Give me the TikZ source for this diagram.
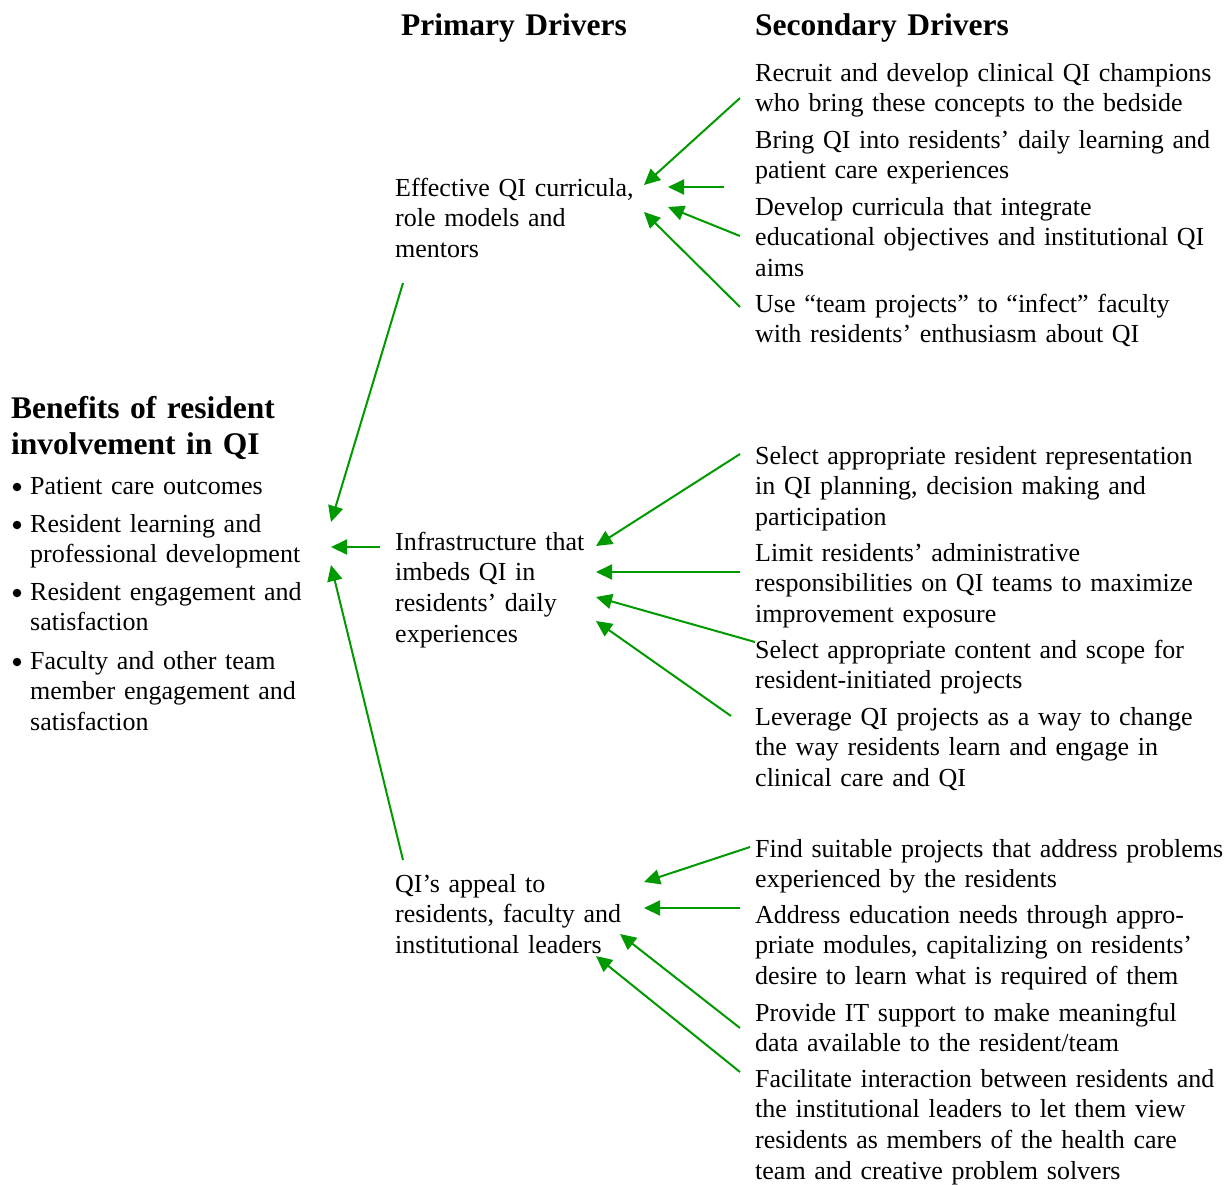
\documentclass[tikz,border=0pt]{standalone}
\usepackage{fontspec}
\setmainfont{Liberation Serif}
\usetikzlibrary{arrows.meta}
\definecolor{arrgreen}{RGB}{0,153,0}
\begin{document}
\begin{tikzpicture}[x=1pt,y=-1pt,
  txt/.style={anchor=base west, inner sep=0pt, align=left, text width=520pt,
    yshift=-2pt, font=\fontsize{26.0}{30.7}\selectfont},
  hdr/.style={anchor=base west, inner sep=0pt, align=left, text width=400pt,
    yshift=-1pt, font=\fontsize{31.5}{36.5}\selectfont\bfseries},
  bul/.style={circle, fill=black, inner sep=0pt, minimum size=8.5pt, yshift=-2pt},
  arr/.style={draw=arrgreen, line width=2pt, -{Triangle[length=16pt,width=15pt]}}]
\useasboundingbox (0,0) rectangle (1228,1184);

% headers
\node[hdr] (h1) at (401,34) {Primary Drivers};
\node[hdr] (h2) at (755,34) {Secondary Drivers};
\node[hdr] (hb) at (11,417) {Benefits of resident\\involvement in QI};

% benefits bullets
\node[bul] (d1) at (17,485) {};
\node[txt] (b1) at (30,492) {Patient care outcomes};
\node[bul] (d2) at (17,523) {};
\node[txt] (b2) at (30,530) {Resident learning and\\professional development};
\node[bul] (d3) at (17,591) {};
\node[txt] (b3) at (30,598) {Resident engagement and\\satisfaction};
\node[bul] (d4) at (17,660) {};
\node[txt] (b4) at (30,667) {Faculty and other team\\member engagement and\\satisfaction};

% primary drivers
\node[txt] (p1) at (395,194) {Effective QI curricula,\\role models and\\mentors};
\node[txt] (p2) at (395,548) {Infrastructure that\\imbeds QI in\\residents’ daily\\experiences};
\node[txt] (p3) at (395,890) {QI’s appeal to\\residents, faculty and\\institutional leaders};

% secondary drivers
\node[txt] (s1) at (755,79) {Recruit and develop clinical QI champions\\who bring these concepts to the bedside};
\node[txt] (s2) at (755,146) {Bring QI into residents’ daily learning and\\patient care experiences};
\node[txt] (s3) at (755,213) {Develop curricula that integrate\\educational objectives and institutional QI\\aims};
\node[txt] (s4) at (755,310) {Use “team projects” to “infect” faculty\\with residents’ enthusiasm about QI};
\node[txt] (s5) at (755,462) {Select appropriate resident representation\\in QI planning, decision making and\\participation};
\node[txt] (s6) at (755,559) {Limit residents’ administrative\\responsibilities on QI teams to maximize\\improvement exposure};
\node[txt] (s7) at (755,656) {Select appropriate content and scope for\\resident-initiated projects};
\node[txt] (s8) at (755,723) {Leverage QI projects as a way to change\\the way residents learn and engage in\\clinical care and QI};
\node[txt] (s9) at (755,855) {Find suitable projects that address problems\\experienced by the residents};
\node[txt] (s10) at (755,921) {Address education needs through appro-\\priate modules, capitalizing on residents’\\desire to learn what is required of them};
\node[txt] (s11) at (755,1019) {Provide IT support to make meaningful\\data available to the resident/team};
\node[txt] (s12) at (755,1085) {Facilitate interaction between residents and\\the institutional leaders to let them view\\residents as members of the health care\\team and creative problem solvers};

% arrow end points
\coordinate (a1s) at (740,98);   \coordinate (a1t) at (644,185);
\coordinate (a2s) at (724,187);  \coordinate (a2t) at (668,187);
\coordinate (a3s) at (740,236);  \coordinate (a3t) at (668,207);
\coordinate (a4s) at (740,307);  \coordinate (a4t) at (644,212);
\coordinate (a5s) at (740,454);  \coordinate (a5t) at (596,546);
\coordinate (a6s) at (740,572);  \coordinate (a6t) at (596,572);
\coordinate (a7s) at (755,642);  \coordinate (a7t) at (596,597);
\coordinate (a8s) at (731,716);  \coordinate (a8t) at (596,621);
\coordinate (a9s) at (750,847);  \coordinate (a9t) at (644,882);
\coordinate (a10s) at (740,908); \coordinate (a10t) at (644,908);
\coordinate (a11s) at (740,1028);\coordinate (a11t) at (620,934);
\coordinate (a12s) at (740,1072);\coordinate (a12t) at (596,956);
\coordinate (q1s) at (403,283);  \coordinate (q1t) at (331,522);
\coordinate (q2s) at (380,547);  \coordinate (q2t) at (331,547);
\coordinate (q3s) at (403,860);  \coordinate (q3t) at (331,565);

\foreach \n in {a1,a2,a3,a4,a5,a6,a7,a8,a9,a10,a11,a12,q1,q2,q3}
  \draw[arr] (\n s) -- (\n t);
\end{tikzpicture}
\end{document}
